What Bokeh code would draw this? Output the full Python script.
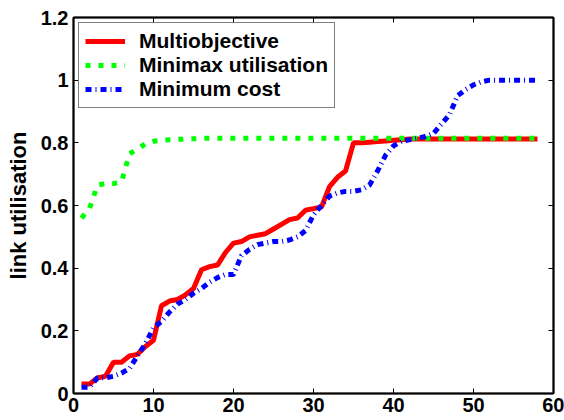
from bokeh.plotting import figure
from bokeh.models import Range1d, LinearAxis, FixedTicker, CustomJSTickFormatter, Legend, LegendItem
from bokeh.embed import file_html
from bokeh.resources import INLINE

x = list(range(1, 59))

multiobjective = [0.03, 0.03, 0.05, 0.055, 0.10, 0.10, 0.12, 0.125, 0.15, 0.17,
                  0.28, 0.295, 0.30, 0.315, 0.335, 0.395, 0.405, 0.41, 0.45, 0.48,
                  0.485, 0.50, 0.505, 0.51, 0.525, 0.54, 0.555, 0.56, 0.585, 0.59,
                  0.595, 0.66, 0.69, 0.71, 0.80, 0.80, 0.802, 0.804, 0.806, 0.808,
                  0.81, 0.812, 0.812, 0.812, 0.812, 0.812, 0.812, 0.812, 0.812, 0.812,
                  0.812, 0.812, 0.812, 0.812, 0.812, 0.812, 0.812, 0.812]

minimax = [0.56, 0.59, 0.665, 0.67, 0.67, 0.675, 0.765, 0.78, 0.797, 0.805,
           0.808, 0.81, 0.811, 0.812, 0.813, 0.814, 0.815, 0.815, 0.815, 0.815,
           0.815, 0.815, 0.815, 0.815, 0.815, 0.815, 0.815, 0.815, 0.815, 0.815,
           0.815, 0.815, 0.815, 0.815, 0.815, 0.815, 0.815, 0.815, 0.815, 0.815,
           0.815, 0.815, 0.815, 0.815, 0.815, 0.815, 0.815, 0.815, 0.815, 0.815,
           0.815, 0.815, 0.815, 0.815, 0.815, 0.815, 0.815, 0.815]

mincost = [0.02, 0.02, 0.05, 0.05, 0.055, 0.065, 0.08, 0.12, 0.16, 0.21,
           0.23, 0.26, 0.285, 0.30, 0.32, 0.335, 0.355, 0.37, 0.38, 0.38,
           0.44, 0.46, 0.475, 0.48, 0.485, 0.485, 0.49, 0.50, 0.52, 0.57,
           0.60, 0.63, 0.64, 0.645, 0.645, 0.65, 0.665, 0.71, 0.76, 0.79,
           0.805, 0.81, 0.815, 0.82, 0.83, 0.86, 0.89, 0.95, 0.97, 0.985,
           0.995, 1.0, 1.0, 1.0, 1.0, 1.0, 1.0, 1.0]

x_ticks = [0, 10, 20, 30, 40, 50, 60]
y_ticks = [0, 0.2, 0.4, 0.6, 0.8, 1, 1.2]

FONT = "Liberation Sans"

p = figure(width=564, height=420, output_backend="svg", toolbar_location=None,
           x_range=Range1d(0, 60), y_range=Range1d(0, 1.2),
           min_border_left=73, min_border_top=17, min_border_right=11, min_border_bottom=27)
p.xgrid.visible = False
p.ygrid.visible = False
p.outline_line_color = "black"
p.outline_line_width = 1.5
p.background_fill_color = "white"
p.border_fill_color = "white"

fmt = CustomJSTickFormatter(code="return tick.toString();")
blank = CustomJSTickFormatter(code="return '';")

def style_axis(ax, show_labels):
    ax.axis_line_color = "black"
    ax.axis_line_width = 2
    ax.major_tick_in = 5
    ax.major_tick_out = 0
    ax.minor_tick_in = 0
    ax.minor_tick_out = 0
    ax.major_tick_line_color = "black"
    ax.major_tick_line_width = 1
    if show_labels:
        ax.formatter = fmt
        ax.major_label_text_font = FONT
        ax.major_label_text_font_style = "bold"
        ax.major_label_text_font_size = "20px"
        ax.major_label_text_color = "black"
    else:
        ax.formatter = blank
        ax.major_label_text_font_size = "8px"
        ax.major_label_standoff = 0

xa = p.xaxis[0]
xa.ticker = FixedTicker(ticks=x_ticks)
style_axis(xa, True)
xa.major_label_standoff = 4

ya = p.yaxis[0]
ya.ticker = FixedTicker(ticks=y_ticks)
style_axis(ya, True)
ya.major_label_standoff = 5
ya.axis_label = "link utilisation"
ya.axis_label_text_font = FONT
ya.axis_label_text_font_style = "bold"
ya.axis_label_text_font_size = "22px"
ya.axis_label_text_color = "black"
ya.axis_label_standoff = 7

top = LinearAxis(ticker=FixedTicker(ticks=x_ticks))
style_axis(top, False)
p.add_layout(top, "above")
right = LinearAxis(ticker=FixedTicker(ticks=y_ticks))
style_axis(right, False)
p.add_layout(right, "right")

r1 = p.line(x, multiobjective, line_color="#ff0000", line_width=5)
r2 = p.line(x, minimax, line_color="#00ff00", line_width=5, line_dash="5 8")
r3 = p.line(x, mincost, line_color="#0000ff", line_width=5, line_dash="6 4 1 4")

legend = Legend(items=[LegendItem(label="Multiobjective", renderers=[r1]),
                       LegendItem(label="Minimax utilisation", renderers=[r2]),
                       LegendItem(label="Minimum cost", renderers=[r3])],
                location="top_left")
legend.margin = 5
legend.padding = 6
legend.spacing = 0
legend.glyph_width = 40
legend.glyph_height = 20
legend.label_standoff = 14
legend.label_text_font = FONT
legend.label_text_font_style = "bold"
legend.label_text_font_size = "21px"
legend.label_text_color = "black"
legend.border_line_color = "black"
legend.border_line_width = 1.5
legend.background_fill_alpha = 1
p.add_layout(legend)

open("out.html", "w").write(file_html(p, INLINE))
